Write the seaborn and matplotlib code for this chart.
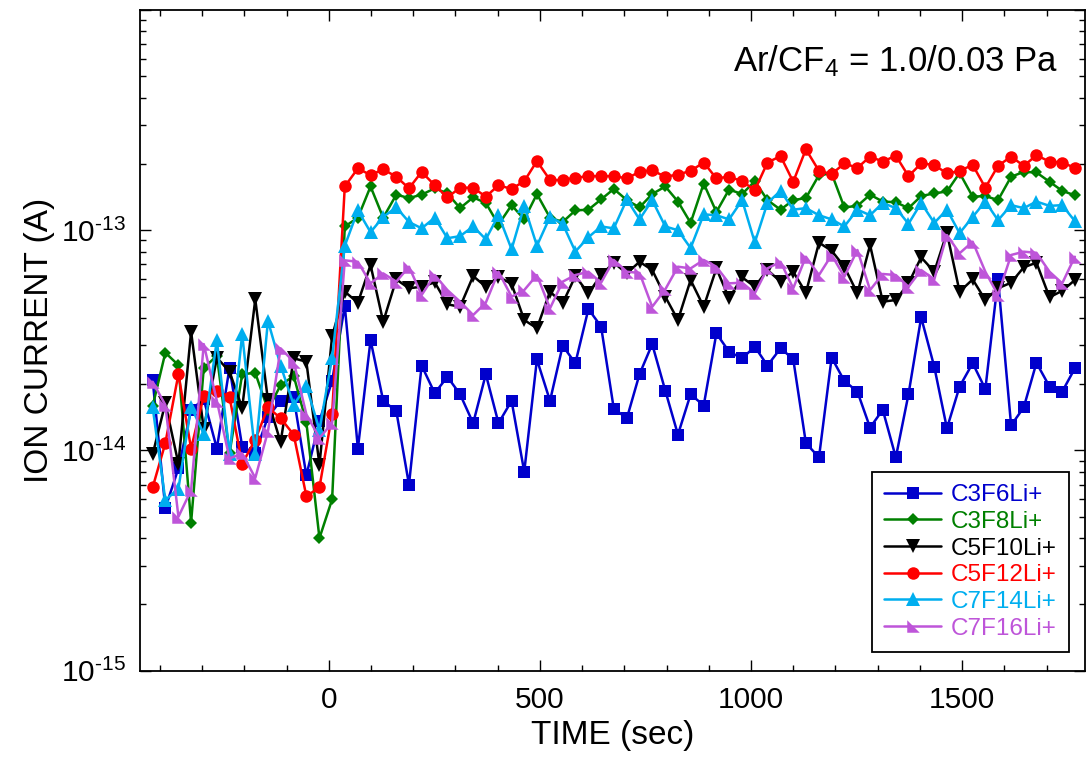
import numpy as np
import pandas as pd
import matplotlib
matplotlib.use("Agg")
import matplotlib.pyplot as plt
import seaborn as sns
from matplotlib.ticker import FixedLocator, MultipleLocator, NullFormatter, FuncFormatter

# ---------------- data (ion current in units of 1e-14 A) ----------------
time_s = [-417, -387, -356, -326, -296, -265, -235, -205, -174, -144, -114, -83, -53, -22, 8,
          38, 69, 99, 129, 160, 190, 220, 251, 281, 311, 342, 372, 402, 433, 463, 493, 524,
          554, 584, 615, 645, 675, 706, 736, 766, 797, 827, 857, 888, 918, 948, 979, 1009,
          1039, 1070, 1100, 1130, 1161, 1191, 1221, 1252, 1282, 1312, 1343, 1373, 1403, 1434,
          1464, 1494, 1525, 1555, 1585, 1616, 1646, 1676, 1707, 1737, 1767]

c3f6 = [2.09, 0.547, 0.83, 1.53, 1.71, 1.02, 2.38, 1.04, 0.97, 1.42, 1.68, 1.74, 0.77, 1.36, 2.07,
        4.54, 1.02, 3.17, 1.68, 1.51, 0.70, 2.43, 1.82, 2.16, 1.80, 1.33, 2.22, 1.33, 1.68, 0.80,
        2.59, 1.68, 2.99, 2.49, 4.39, 3.65, 1.55, 1.40, 2.22,
        3.04, 1.87, 1.18, 1.80, 1.60, 3.40, 2.81, 2.62, 2.96, 2.43, 2.91, 2.60, 1.08, 0.93, 2.64,
        2.07, 1.85, 1.27, 1.53, 0.93, 1.80, 4.02, 2.40, 1.26, 1.95, 2.49, 1.90, 5.98, 1.30, 1.57,
        2.50, 1.95, 1.85, 2.36]

c3f8 = [1.59, 2.78, 2.44, 0.47, 2.37, 2.69, 0.97, 2.22, 2.25, 1.53, 1.98, 2.18, 1.34, 0.40, 0.60,
        10.4, 11.4, 15.8, 11.4, 14.5, 14.0, 14.5, 15.5, 14.7, 12.6, 14.1, 13.3, 10.6, 13.0, 11.2,
        14.6, 11.4, 10.9, 12.3, 12.4, 13.8, 15.4, 13.7, 12.7,
        14.6, 15.8, 13.5, 10.8, 16.3, 12.1, 15.3, 14.6, 16.7, 13.7, 12.4, 13.7, 14.0, 17.8, 18.1,
        12.7, 12.9, 14.5, 13.5, 13.4, 12.6, 14.3, 14.7, 15.0, 18.2, 14.2, 14.3, 13.7, 17.5, 18.4,
        18.3, 16.6, 15.1, 14.4]

c5f10 = [0.96, 1.64, 0.87, 3.46, 1.25, 2.64, 2.28, 1.56, 4.86, 1.69, 1.09, 2.62, 2.53, 0.86, 3.31,
         5.26, 4.69, 6.95, 3.84, 5.98, 5.45, 5.54, 5.80, 4.61, 4.49, 6.19, 5.54, 6.15, 5.70, 3.91,
         3.59, 5.26, 4.66, 6.19, 5.17, 6.26, 7.12, 6.37, 7.19,
         6.60, 4.99, 3.91, 5.94, 4.49, 6.71, 4.91, 6.11, 5.54, 6.60, 5.84, 6.48, 5.20, 8.78, 8.07,
         6.83, 5.17, 8.57, 4.74, 4.82, 5.74, 7.53, 6.48, 9.74, 5.26, 5.98, 4.82, 5.45, 5.78, 6.79,
         7.12, 4.96, 5.31, 5.94]

c5f12 = [0.68, 1.08, 2.22, 1.02, 1.77, 1.87, 1.75, 0.87, 1.12, 1.57, 1.40, 1.18, 0.62, 0.68, 1.46,
         15.8, 19.1, 17.8, 18.9, 17.5, 15.5, 18.4, 16.0, 14.1, 15.6, 15.6, 14.2, 16.0, 15.4, 16.7,
         20.6, 16.9, 16.9, 17.3, 17.6, 17.6, 17.6, 17.2, 18.4,
         18.7, 17.5, 17.9, 18.6, 20.3, 17.2, 17.5, 16.7, 15.2, 20.3, 21.7, 16.6, 23.3, 18.6, 18.0,
         20.1, 19.2, 21.6, 20.5, 21.8, 17.6, 20.1, 19.8, 18.1, 18.6, 19.8, 15.6, 19.6, 21.6, 19.6,
         21.9, 20.5, 20.3, 19.2]

c7f14 = [1.57, 0.595, 0.67, 1.58, 1.19, 3.17, 0.96, 3.37, 0.96, 3.88, 2.43, 1.61, 1.96, 1.24, 2.64,
         8.5, 12.3, 9.8, 11.5, 12.7, 10.9, 10.2, 11.4, 9.2, 9.4, 10.4, 9.1, 11.7, 8.2, 12.9,
         8.5, 11.5, 10.7, 8.0, 9.3, 10.4, 10.2, 13.8, 11.2,
         13.7, 10.4, 10.0, 8.3, 11.8, 11.7, 11.2, 13.7, 8.8, 13.3, 15.1, 12.4, 12.6, 11.7, 11.2,
         10.4, 12.4, 11.7, 13.3, 12.6, 10.7, 13.3, 10.8, 12.4, 9.7, 11.5, 13.5, 11.1, 13.0, 12.6,
         13.5, 12.9, 13.0, 11.0]

c7f16 = [2.05, 1.61, 0.50, 0.66, 3.04, 1.68, 0.92, 0.97, 0.75, 1.22, 2.91, 2.53, 1.46, 1.14, 1.33,
         7.3, 7.19, 5.74, 6.37, 5.84, 6.83, 5.08, 6.26, 5.35, 4.74, 4.12, 4.69, 6.48, 4.99, 5.35,
         6.26, 4.42, 5.84, 6.26, 6.48, 5.78, 7.33, 6.48, 6.4,
         4.49, 5.39, 6.83, 6.71, 7.33, 6.83, 5.74, 5.78, 5.17, 6.71, 7.19, 5.45, 7.58, 6.26, 7.72,
         6.15, 8.13, 5.35, 6.33, 6.26, 5.54, 6.60, 5.98, 9.51, 7.86, 8.87, 6.48, 5.08, 7.72, 7.99,
         7.90, 6.48, 5.74, 7.58]

labels = ["C3F6Li+", "C3F8Li+", "C5F10Li+", "C5F12Li+", "C7F14Li+", "C7F16Li+"]
unit = 1e-14

# ---------------- styling ----------------
sns.set_theme(style="ticks")
plt.rcParams["font.family"] = ["Liberation Sans", "DejaVu Sans"]
plt.rcParams["mathtext.fontset"] = "custom"
plt.rcParams["mathtext.rm"] = "Liberation Sans"
plt.rcParams["mathtext.it"] = "Liberation Sans:italic"
plt.rcParams["mathtext.bf"] = "Liberation Sans:bold"
plt.rcParams["mathtext.sf"] = "Liberation Sans"
for k in ["text.color", "axes.labelcolor", "xtick.color", "ytick.color", "axes.edgecolor"]:
    plt.rcParams[k] = "black"

colors = ["#0000CC", "#008000", "#000000", "#FF0000", "#00AEEF", "#BE55D9"]
tri_corner = [(-1, 1), (-1, -1), (1, -1), (-1, 1)]
markers = ["s", "D", "v", "o", "^", tri_corner]
msizes = [8.0, 6.2, 9.5, 9.0, 9.5, 9.0]

df = pd.DataFrame({"time": time_s})
for lab, vals in zip(labels, [c3f6, c3f8, c5f10, c5f12, c7f14, c7f16]):
    df[lab] = np.array(vals) * unit

W, H = 1089, 765
fig = plt.figure(figsize=(W / 100, H / 100), dpi=100)
ax = fig.add_axes([140 / W, 1 - 670.7 / H, 945 / W, 660.7 / H])

for lab, col, mk, ms in zip(labels, colors, markers, msizes):
    sns.lineplot(data=df, x="time", y=lab, ax=ax, color=col, marker=mk,
                 markersize=ms, markeredgewidth=0, markeredgecolor=col,
                 linewidth=1.8, label=lab, sort=False, estimator=None)

ax.set_yscale("log")
ax.set_ylim(1e-15, 1e-12)
ax.set_xlim(-447, 1791)

ax.xaxis.set_major_locator(FixedLocator([0, 500, 1000, 1500]))
ax.xaxis.set_minor_locator(MultipleLocator(100))
ax.xaxis.set_major_formatter(FuncFormatter(lambda v, p: f"{int(v)}"))

ax.yaxis.set_major_locator(FixedLocator([1e-15, 1e-14, 1e-13, 1e-12]))
minor_y = [m * 10.0 ** e for e in (-15, -14, -13) for m in range(2, 10)]
ax.yaxis.set_minor_locator(FixedLocator(minor_y))
ax.yaxis.set_minor_formatter(NullFormatter())
ax.yaxis.set_major_formatter(FuncFormatter(
    lambda v, p: "" if v > 5e-13 else r"$10^{\text{-}%d}$" % abs(int(round(np.log10(v))))))

for s in ax.spines.values():
    s.set_linewidth(1.3)
    s.set_color("black")

ax.tick_params(which="both", direction="in", top=True, right=True, colors="black", width=1.0)
ax.tick_params(which="major", length=8)
ax.tick_params(which="minor", length=4.5)
ax.tick_params(axis="x", which="major", labelsize=21.5, pad=11)
ax.tick_params(axis="y", which="major", labelsize=21.5, pad=10)

ax.set_xlabel("TIME (sec)", fontsize=24, labelpad=4, color="black")
ax.set_ylabel("ION CURRENT (A)", fontsize=24, labelpad=4, color="black")

ax.text(0.971, 0.9066, r"Ar/CF$_4$ = 1.0/0.03 Pa", transform=ax.transAxes,
        ha="right", va="baseline", fontsize=25, color="black")

leg = ax.legend(loc="lower right", bbox_to_anchor=(0.983, 0.0288), borderaxespad=0,
                fontsize=17.5, frameon=True, fancybox=False, edgecolor="black",
                framealpha=1, borderpad=0.5, handlelength=2.35, handletextpad=0.4,
                labelspacing=0.19)
leg.get_frame().set_linewidth(1.3)
for txt, col in zip(leg.get_texts(), colors):
    txt.set_color(col)

fig.savefig("out.png", dpi=100)
